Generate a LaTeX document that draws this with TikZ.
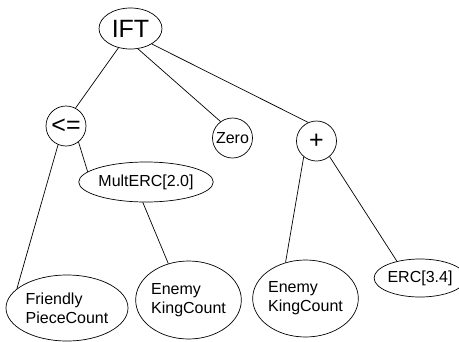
\documentclass[tikz,border=0pt]{standalone}
\usepackage{fontspec}
\setmainfont{Liberation Sans}
\usetikzlibrary{shapes.geometric}
\tikzset{
x=1pt, y=-1pt, % one unit is one pixel of the reference, y grows downwards
every node/.style={draw, line width=0.7pt, inner sep=0pt, font=\fontsize{16}{19}\selectfont}, % sets the properties for each tree node
big/.style={font=\fontsize{25}{28}\selectfont}, % the large operator labels
gp/.style={ellipse, align=left}, % an oval node of the tree
op/.style={circle, minimum size=40pt}, % a round node of the tree
every path/.style={line width=0.7pt},
}

\begin{document}
\begin{tikzpicture}
    \useasboundingbox (0,0) rectangle (459,341);
    \node[gp, big, minimum width=63pt, minimum height=41pt] (ift) at (130.5,28.5) {IFT};
    \node[op, big] (le) at (66,126) {<=};
    \node[op] (zero) at (232.5,138) {Zero};
    \node[op, big] (plus) at (316.5,141) {+};
    \node[gp, minimum width=114pt, minimum height=40pt] (mult) at (146,182) {MultERC[2.0]};
    \node[gp, minimum width=122pt, minimum height=66pt] (fpc) at (67,308) {Friendly\\PieceCount};
    \node[gp, minimum width=101pt, minimum height=78pt] (ekl) at (188.5,300) {Enemy\\KingCount};
    \node[gp, minimum width=103pt, minimum height=77pt] (ekr) at (305.5,298.5) {Enemy\\KingCount};
    \node[gp, minimum width=76pt, minimum height=38pt] (erc) at (420,278) {ERC[3.4]};
    \draw
    (ift.238) -- (le.62)
    (ift.290) -- (zero.126)
    (ift.324) -- (plus.114)
    (le.247) -- (fpc.159)
    (le.308) -- (mult.170)
    (mult.261) -- (ekl.119)
    (plus.231) -- (ekr.119)
    (plus.310) -- (erc.144);
\end{tikzpicture}
\end{document}
